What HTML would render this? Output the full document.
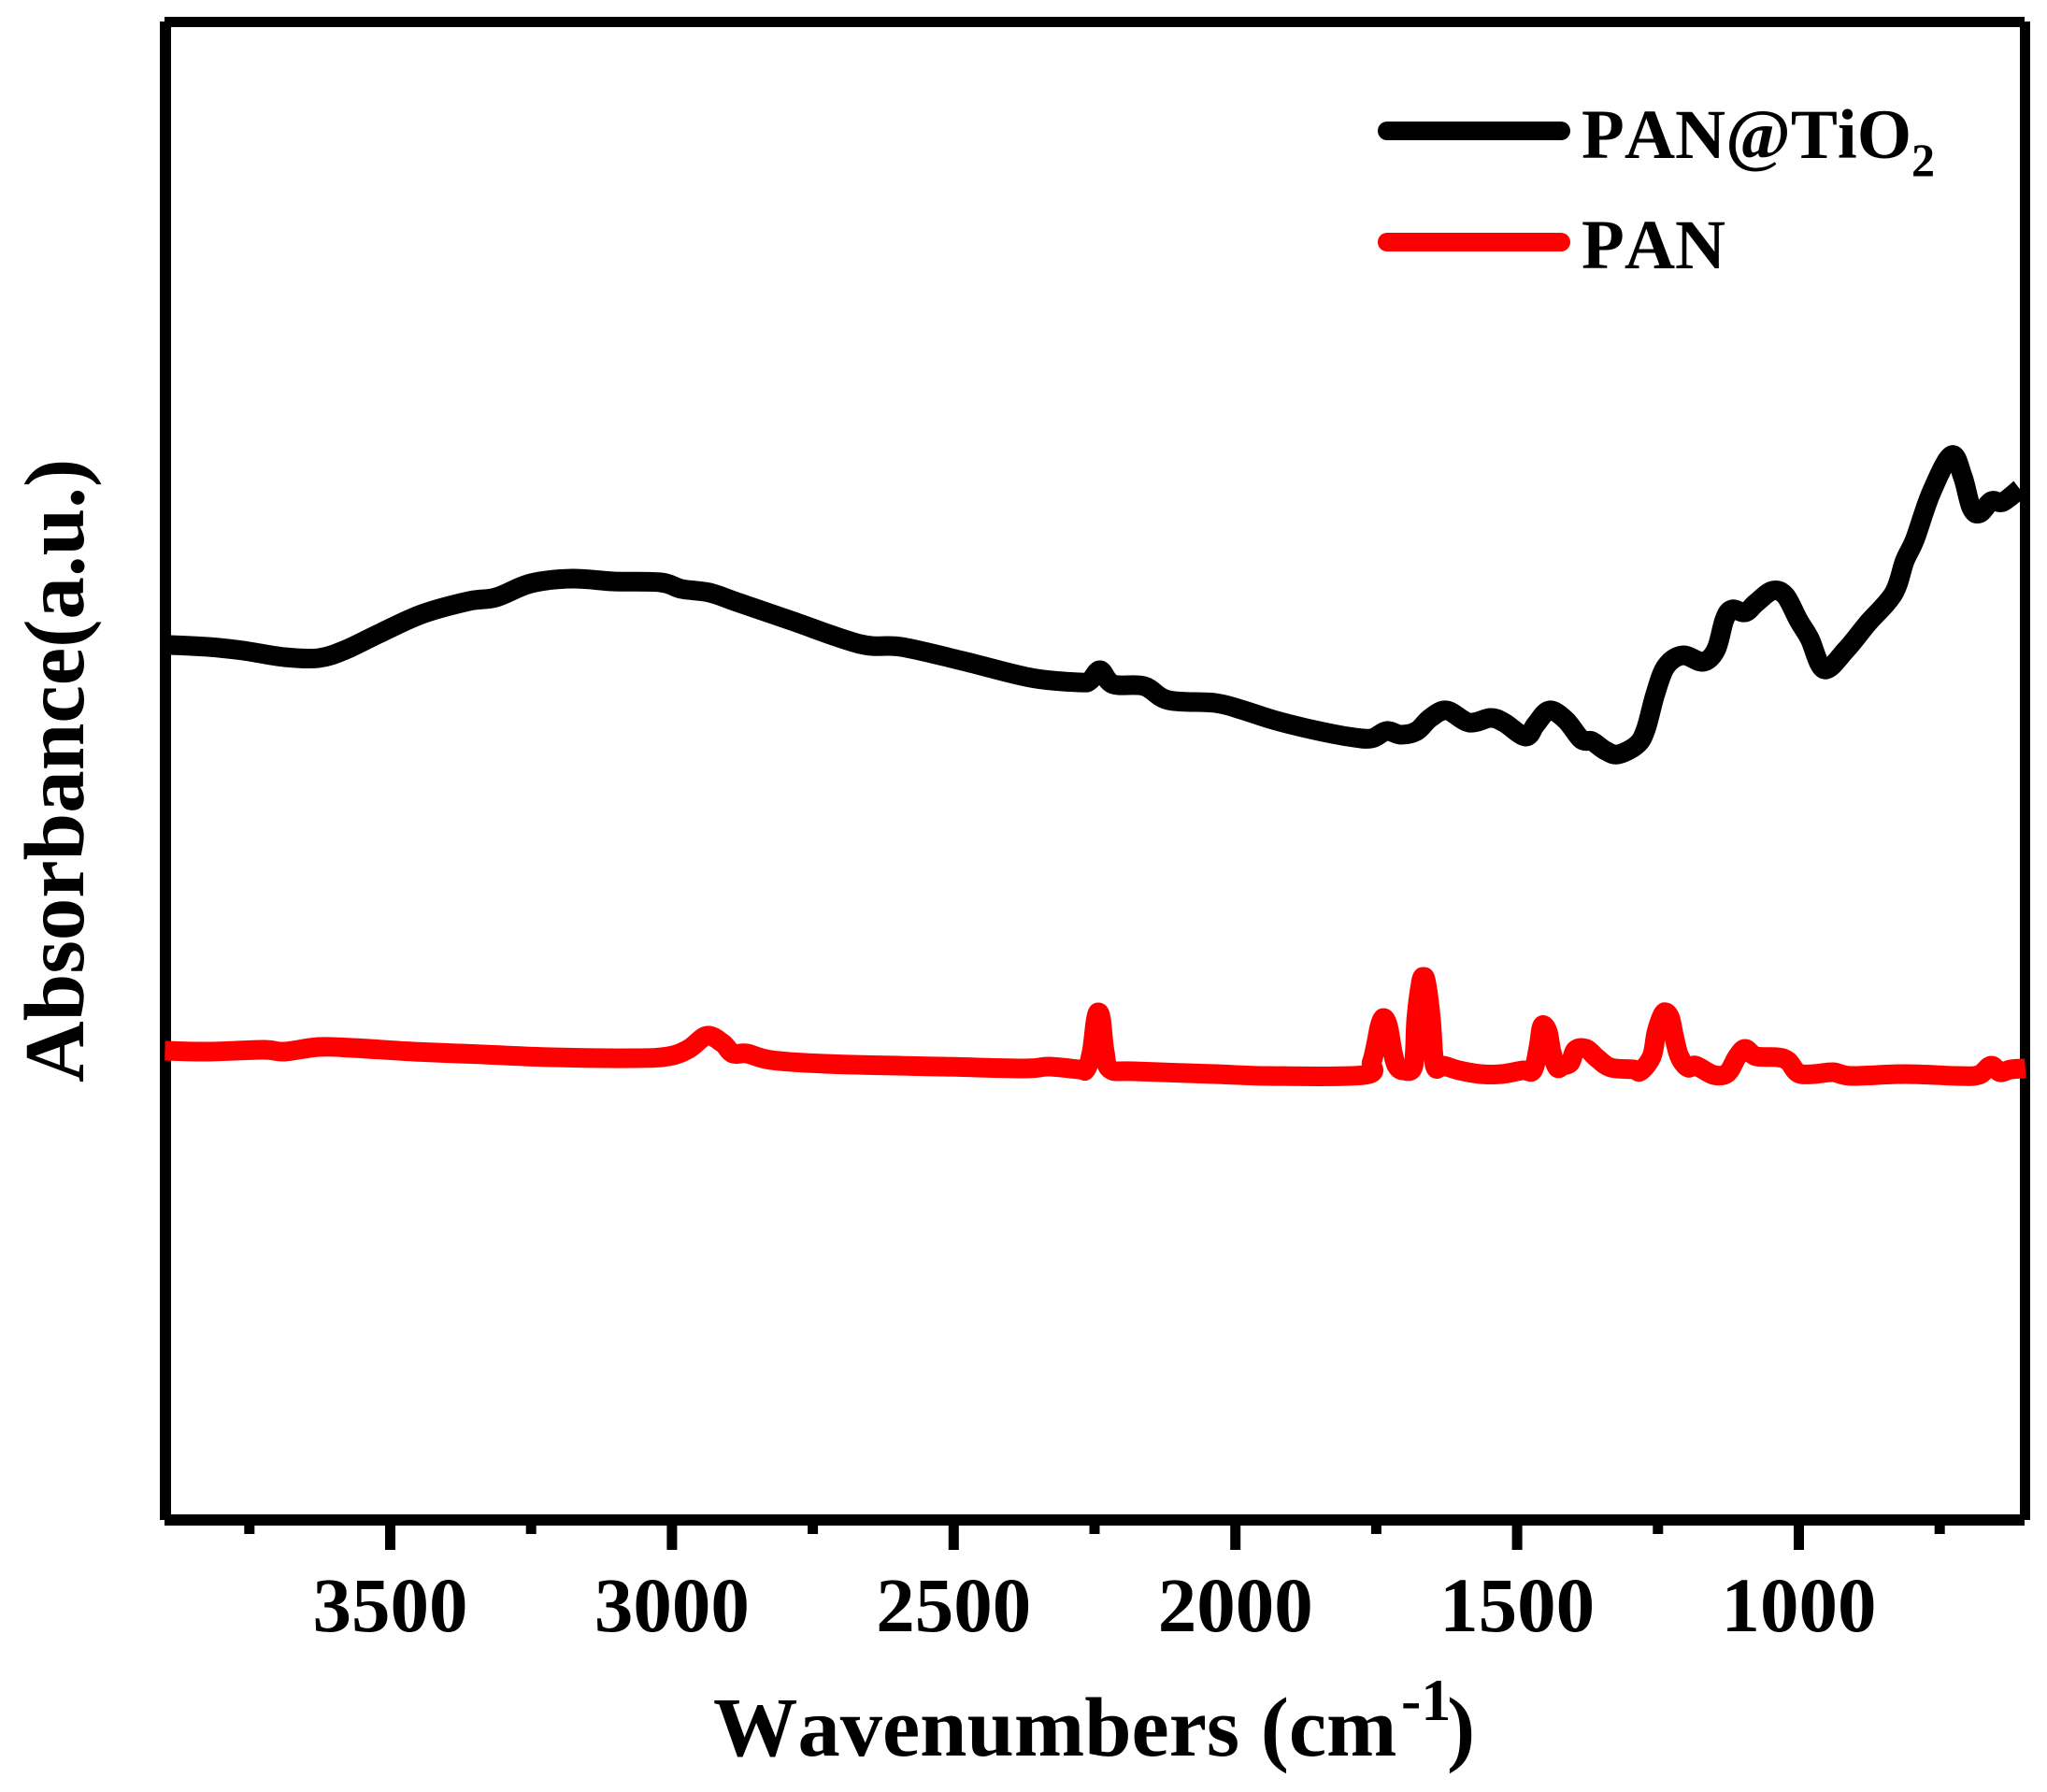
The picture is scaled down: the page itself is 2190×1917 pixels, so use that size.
<!DOCTYPE html>
<html lang="en">
<head>
<meta charset="utf-8">
<title>FTIR spectra of PAN and PAN@TiO2</title>
<style>
  html, body { margin: 0; padding: 0; background: #fff; }
  svg { display: block; }
  text { font-family: "Liberation Serif", serif; font-weight: bold; fill: #000; font-kerning: none; }
</style>
</head>
<body>
<svg id="chart" xmlns="http://www.w3.org/2000/svg" width="2190" height="1917" viewBox="0 0 2190 1917">
  <rect x="0" y="0" width="2190" height="1917" fill="#fff"/>
  <g id="series"></g>
  <g id="frame">
    <rect x="171" y="23" width="12" height="1603" fill="#000"/>
    <rect x="176" y="18" width="1990" height="11" fill="#000"/>
    <rect x="2161" y="23" width="11" height="1603" fill="#000"/>
    <rect x="176" y="1620" width="1990" height="12" fill="#000"/>
  </g>
  <g id="series-top"></g>
  <g id="ticks"></g>

  <text font-size="90.5" y="1878"><tspan x="763">Wavenumbers (cm</tspan><tspan x="1499" y="1840" font-size="64">-1</tspan><tspan x="1548" y="1878" font-size="90.5">)</tspan></text>
  <text font-size="91" transform="translate(89 1158) rotate(-90)" x="0" y="0">Absorbance(a.u.)</text>

  <g>
    <line x1="1484" y1="140" x2="1670" y2="140" stroke="#000" stroke-width="20" stroke-linecap="round"/>
    <text x="1692" y="169" font-size="75">PAN@TiO</text>
    <text x="2045" y="188" font-size="50">2</text>
    <line x1="1484" y1="259" x2="1670" y2="259" stroke="#f00" stroke-width="20" stroke-linecap="round"/>
    <text x="1692" y="287" font-size="75">PAN</text>
  </g>
</svg>
<script>
const majorTicks = [3500, 3000, 2500, 2000, 1500, 1000];
const minorTicks = [3750, 3250, 2750, 2250, 1750, 1250, 750];

const panTio2Wavenumbers = [3900,3889,3823,3761,3688,3627,3579,3517,3444,3360,3312,3250,3177,3104,3020,2983,2933,2885,2788,2666,2593,2484,2363,2277,2258,2240,2217,2162,2119,2036,1990,1933,1867,1800,1759,1732,1706,1678,1654,1625,1585,1547,1523,1485,1467,1443,1414,1386,1367,1343,1321,1288,1272,1255,1236,1206,1170,1147,1132,1119,1095,1076,1047,1024,1001,981,955,916,878,832,812,794,765,729,709,694,679,658,638,608];
const panTio2Absorbance = [.936,.936,.934,.930,.923,.922,.931,.949,.969,.983,.987,1.002,1.007,1.004,1.003,.996,.992,.982,.962,.937,.934,.919,.901,.896,.898,.909,.894,.892,.877,.874,.867,.856,.846,.838,.836,.844,.840,.844,.858,.866,.853,.858,.853,.838,.851,.866,.856,.835,.833,.823,.819,.829,.845,.883,.913,.925,.918,.931,.963,.974,.971,.981,.994,.989,.963,.943,.910,.931,.959,.991,1.026,1.049,1.099,1.139,1.116,1.083,1.077,1.090,1.089,1.103];

const panWavenumbers = [3900,3823,3725,3688,3627,3567,3458,3335,3214,3068,3006,2970,2938,2910,2892,2867,2824,2728,2520,2374,2331,2277,2265,2255,2248,2243,2238,2232,2222,2180,2036,1941,1772,1758,1750,1744,1737,1729,1721,1714,1702,1684,1679,1671,1666,1661,1653,1646,1631,1603,1565,1528,1490,1472,1462,1457,1452,1445,1439,1429,1419,1406,1396,1377,1358,1334,1293,1281,1261,1253,1243,1236,1228,1221,1212,1197,1183,1151,1127,1109,1095,1076,1038,1019,1001,973,939,906,812,718,681,659,643,624,598];
const panAbsorbance = [.502,.501,.503,.501,.506,.505,.501,.498,.495,.494,.496,.504,.518,.510,.499,.499,.492,.488,.485,.483,.485,.482,.482,.501,.534,.543,.534,.501,.482,.480,.477,.475,.476,.490,.510,.528,.537,.528,.501,.486,.481,.486,.536,.574,.581,.574,.536,.486,.486,.481,.477,.477,.481,.481,.506,.526,.529,.521,.501,.484,.486,.489,.503,.504,.494,.484,.482,.480,.496,.521,.539,.543,.536,.516,.496,.484,.486,.476,.478,.496,.504,.496,.495,.491,.478,.477,.479,.475,.477,.475,.476,.486,.479,.482,.483];

const NS = 'http://www.w3.org/2000/svg';

function xScale(wavenumber) {
  return 417.5 + (3500 - wavenumber) * 0.6028;
}
function yScale(absorbance) {
  return 1626 - absorbance * 1000;
}
function smoothPath(xs, ys) {
  const px = xs.map(xScale);
  const py = ys.map(yScale);
  const n = px.length;
  let d = 'M' + px[0].toFixed(1) + ' ' + py[0].toFixed(1);
  for (let i = 0; i < n - 1; i++) {
    const a = Math.max(i - 1, 0);
    const b = Math.min(i + 2, n - 1);
    const k = 1 / 6;
    const c1x = px[i] + (px[i + 1] - px[a]) * k;
    const c1y = py[i] + (py[i + 1] - py[a]) * k;
    const c2x = px[i + 1] - (px[b] - px[i]) * k;
    const c2y = py[i + 1] - (py[b] - py[i]) * k;
    d += 'C' + c1x.toFixed(1) + ' ' + c1y.toFixed(1) + ' ' + c2x.toFixed(1) + ' ' + c2y.toFixed(1) + ' ' + px[i + 1].toFixed(1) + ' ' + py[i + 1].toFixed(1);
  }
  return d;
}

const seriesLayer = document.getElementById('series');
const seriesTop = document.getElementById('series-top');
const ticksLayer = document.getElementById('ticks');

const blackLine = document.createElementNS(NS, 'path');


blackLine.setAttribute('d', smoothPath(panTio2Wavenumbers, panTio2Absorbance));
blackLine.setAttribute('fill', 'none');
blackLine.setAttribute('stroke', '#000');
blackLine.setAttribute('stroke-width', '21');
blackLine.setAttribute('stroke-linejoin', 'round');
seriesLayer.appendChild(blackLine);

const redLine = document.createElementNS(NS, 'path');


redLine.setAttribute('d', smoothPath(panWavenumbers, panAbsorbance));
redLine.setAttribute('fill', 'none');
redLine.setAttribute('stroke', '#f00');
redLine.setAttribute('stroke-width', '21');
redLine.setAttribute('stroke-linejoin', 'round');
seriesTop.appendChild(redLine);

majorTicks.forEach(function (value) {
  const tick = document.createElementNS(NS, 'rect');
  
  
  tick.setAttribute('x', xScale(value) - 5.5);
  tick.setAttribute('y', 1632);
  tick.setAttribute('width', 11);
  tick.setAttribute('height', 26);
  ticksLayer.appendChild(tick);

  const label = document.createElementNS(NS, 'text');
  
  
  label.setAttribute('x', xScale(value));
  label.setAttribute('y', 1745);
  label.setAttribute('font-size', '83');
  label.setAttribute('text-anchor', 'middle');
  label.textContent = String(value);
  ticksLayer.appendChild(label);
});

minorTicks.forEach(function (value) {
  const tick = document.createElementNS(NS, 'rect');
  
  
  tick.setAttribute('x', xScale(value) - 5.5);
  tick.setAttribute('y', 1632);
  tick.setAttribute('width', 11);
  tick.setAttribute('height', 9);
  ticksLayer.appendChild(tick);
});
</script>
</body>
</html>
